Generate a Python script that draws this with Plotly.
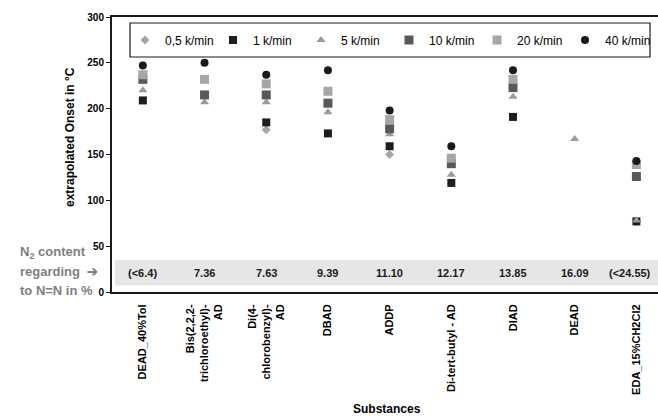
import plotly.graph_objects as go

categories = ["DEAD_40%Tol", "Bis(2,2,2-<br>trichloroethyl)-<br>AD", "Di(4-<br>chlorobenzyl)-<br>AD",
              "DBAD", "ADDP", "Di-tert-butyl - AD", "DIAD", "DEAD", "EDA_15%CH2Cl2"]
n2_content = ["(<6.4)", "7.36", "7.63", "9.39", "11.10", "12.17", "13.85", "16.09", "(<24.55)"]
y_ticks = [0, 50, 100, 150, 200, 250, 300]

v_05 = [None, None, 177, None, 150, None, None, None, 77]
v_1 = [209, None, 185, 173, 159, 119, 191, None, 77]
v_5 = [220, 207, 207, 196, 172, 128, 213, 167, 78]
v_10 = [232, 215, 215, 206, 178, 140, 223, None, 126]
v_20 = [237, 232, 227, 219, 188, 146, 232, None, 139]
v_40 = [247, 250, 237, 242, 198, 159, 242, None, 143]

series_names = ["0,5 k/min", "1 k/min", "5 k/min", "10 k/min", "20 k/min", "40 k/min"]
series_vals = [v_05, v_1, v_5, v_10, v_20, v_40]
symbols = ["diamond", "square", "triangle-up", "square", "square", "circle"]
colors = ["#a6a6a6", "#1e1e1e", "#9a9a9a", "#595959", "#a6a6a6", "#1a1a1a"]
sizes = [7, 8, 8, 9, 9, 8]

FONT = "Arial, Liberation Sans, sans-serif"
xidx = list(range(len(categories)))

fig = go.Figure()
for name, vals, sym, col, sz in zip(series_names, series_vals, symbols, colors, sizes):
    fig.add_trace(go.Scatter(x=xidx, y=vals, mode="markers", name=name,
                             marker=dict(symbol=sym, color=col, size=sz, line=dict(width=0))))

W, H = 658, 418
L, R, T, B = 112, 0, 17, 126
pw = W - L - R
ph = H - T - B

def px_x(p):
    return (p - L) / pw

def px_y(p):
    return (H - B - p) / ph

shapes = []
# grey N2 band
shapes.append(dict(type="rect", xref="paper", yref="y", x0=px_x(115), x1=1.0, y0=7, y1=35,
                   fillcolor="#e6e6e6", line=dict(width=0), layer="below"))
# legend box
shapes.append(dict(type="rect", xref="paper", yref="paper", x0=px_x(130), x1=px_x(650),
                   y0=px_y(57), y1=px_y(23), line=dict(color="#1a1a1a", width=1.2),
                   fillcolor="rgba(0,0,0,0)"))

annotations = []
for i, t in enumerate(n2_content):
    annotations.append(dict(x=i, y=21, xref="x", yref="y", text=t, showarrow=False,
                            xanchor="center", yanchor="middle",
                            xshift=(-6 if i == len(n2_content) - 1 else 0),
                            font=dict(family=FONT, size=11, color="#1a1a1a", weight="bold")))

grey = "#7f7f7f"
for txt, yy in [("N<sub>2</sub> content", 252), ("regarding  \u2794", 271), ("to N=N in %", 290)]:
    annotations.append(dict(x=px_x(18), y=px_y(yy), xref="paper", yref="paper",
                            xanchor="left", yanchor="middle",
                            text=txt, showarrow=False,
                            font=dict(family=FONT, size=13, color=grey, weight="bold")))
annotations.append(dict(x=px_x(70), y=px_y(137), xref="paper", yref="paper",
                        xanchor="center", yanchor="middle",
                        text="extrapolated Onset in °C", textangle=-90, showarrow=False,
                        font=dict(family=FONT, size=12, color="#000000", weight="bold")))
annotations.append(dict(x=px_x(387), y=px_y(409), xref="paper", yref="paper",
                        xanchor="center", yanchor="middle",
                        text="Substances", showarrow=False,
                        font=dict(family=FONT, size=12, color="#000000", weight="bold")))

fig.update_layout(
    width=W, height=H,
    margin=dict(l=L, r=R, t=T, b=B, pad=0, autoexpand=False),
    paper_bgcolor="white", plot_bgcolor="white",
    font=dict(family=FONT, color="#000000"),
    showlegend=True,
    legend=dict(orientation="h", x=px_x(125), y=px_y(40), xanchor="left", yanchor="middle",
                xref="paper", yref="paper",
                font=dict(family=FONT, size=12, color="#000000"),
                bgcolor="rgba(0,0,0,0)", borderwidth=0,
                entrywidth=43, entrywidthmode="pixels", itemwidth=30),
    shapes=shapes,
    annotations=annotations,
    xaxis=dict(range=[-0.5, 8.35], tickmode="array", tickvals=xidx, ticktext=categories,
               tickangle=-90, showgrid=False, zeroline=False, ticks="", automargin=False,
               showline=True, linecolor="#1a1a1a", linewidth=2, mirror=True,
               tickfont=dict(family=FONT, size=11, color="#000000", weight="bold"),
               ticklabelstandoff=6),
    yaxis=dict(range=[0, 300], tickmode="array", tickvals=y_ticks,
               ticktext=[str(v) for v in y_ticks], showgrid=False,
               zeroline=False, ticks="outside", ticklen=4, tickcolor="#1a1a1a", automargin=False,
               showline=True, linecolor="#1a1a1a", linewidth=2, mirror=True,
               tickfont=dict(family=FONT, size=10, color="#000000", weight="bold")),
)

fig.write_html("out.html", config={"displayModeBar": False},
               post_script="document.body.style.margin='0';document.body.style.overflow='hidden';")
